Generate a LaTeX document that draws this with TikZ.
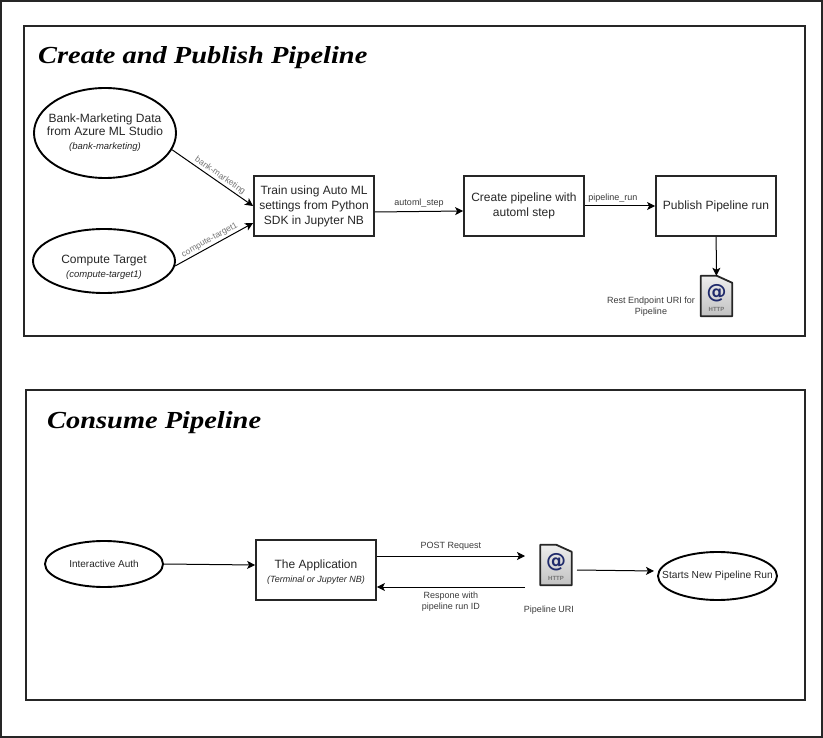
\documentclass[tikz,border=0pt]{standalone}
\usepackage{fontspec}
\setmainfont{Liberation Sans}
\newfontfamily\titlefont[FakeStretch=1.16]{Liberation Serif}
\newfontfamily\iconfont{DejaVu Sans}
\usetikzlibrary{calc,shapes.geometric,arrows.meta}
\definecolor{framegray}{HTML}{262626}
\definecolor{labelgray}{HTML}{3A3A3A}
\definecolor{atblue}{HTML}{1F2A6B}
\tikzset{
    panel/.style={draw=framegray,line width=1.6pt},
    oval/.style={draw,ellipse,line width=1.9pt,inner sep=0pt,align=center,text=black!85},
    stepbox/.style={draw=framegray,line width=1.8pt,minimum width=120pt,minimum height=60pt,inner sep=1pt,align=center,text=black!85,font=\fontsize{12}{15}\selectfont},
    conn/.style={-{Stealth[length=8pt,width=8pt,inset=2pt]},line width=1pt},
    lbl/.style={font=\fontsize{9}{11}\selectfont,text=labelgray,align=center,inner sep=1pt},
    edgelbl/.style={font=\fontsize{8.6}{10}\selectfont,text=labelgray!70,inner sep=1.5pt},
    pagetitle/.style={font=\titlefont\bfseries\itshape\fontsize{24.5}{28}\selectfont,anchor=west,inner sep=0pt},
    icon/.style={minimum width=31pt,minimum height=40pt,inner sep=0pt}
}
% http document icon, #1 name, #2 position
\newcommand{\httpicon}[2]{
    \node[icon] (#1) at (#2) {};
    \draw[line width=1.8pt,top color=black!7,bottom color=black!24,draw=black!85,line join=round]
        (#1.north west) -- ([xshift=16pt]#1.north west) -- ([yshift=-7pt]#1.north east) -- (#1.south east) -- (#1.south west) -- cycle;
    \node[font=\iconfont\bfseries\fontsize{20}{20}\selectfont,text=atblue,inner sep=0pt] (#1at) at ([yshift=3pt]#1.center) {@};
    \node[font=\bfseries\fontsize{6}{6}\selectfont,text=black!55,inner sep=0pt] (#1txt) at ([yshift=-13pt]#1.center) {HTTP};
}
\begin{document}
\begin{tikzpicture}[x=1pt,y=-1pt]
\useasboundingbox (0,0) rectangle (823,738);
\draw[framegray,line width=1.6pt] (1,1) rectangle (822,737);

% create and publish
\draw[panel] (24,26) rectangle (805,336);
\node[pagetitle] (titleA) at (38,58) {Create and Publish Pipeline};

\node[oval,inner xsep=-14pt,minimum width=142pt,minimum height=90pt] (bank) at (105,133)
    {\fontsize{12}{14}\selectfont Bank-Marketing Data\\[1pt]\fontsize{12}{14}\selectfont from Azure ML Studio\\[2pt]\fontsize{9.5}{14}\selectfont\itshape (bank-marketing)};
\node[oval,minimum width=142pt,minimum height=64pt] (compute) at (104,261)
    {\fontsize{12}{14}\selectfont\rule{0pt}{21pt}Compute Target\\[2pt]\fontsize{9.5}{14}\selectfont\itshape (compute-target1)};
\node[stepbox] (train) at (314,206) {Train using Auto ML\\settings from Python\\SDK in Jupyter NB};
\node[stepbox] (create) at (524,206) {Create pipeline with\\automl step};
\node[stepbox] (publish) at (716,206) {Publish Pipeline run};
\httpicon{rest}{716.5,296}
\node[lbl] (restlbl) at (651,307) {Rest Endpoint URI for\\Pipeline};

\draw[conn] (bank.-14) -- node[edgelbl,sloped,above,pos=.55]{bank-marketing} (train.west);
\draw[conn] (compute.-4) -- node[edgelbl,sloped,above,pos=.48]{compute-target1} ([yshift=-17pt]train.west);
\draw[conn] ([yshift=-6pt]train.east) -- node[lbl,above,yshift=3pt]{automl\_step} ([yshift=-5pt]create.west);
\draw[conn] (create) -- node[lbl,above,yshift=2pt,pos=.4]{pipeline\_run} (publish);
\draw[conn] (publish) -- (rest);

% consume
\draw[panel] (26,390) rectangle (805,700);
\node[pagetitle] (titleB) at (47,423) {Consume Pipeline};

\node[oval,minimum width=118pt,minimum height=46pt] (auth) at (104,564)
    {\fontsize{10}{11}\selectfont Interactive Auth};
\node[stepbox] (app) at (316,570)
    {\rule{0pt}{12pt}The Application\\[-1pt]\fontsize{9}{13}\selectfont\itshape (Terminal or Jupyter NB)};
\httpicon{uri}{556,565}
\node[lbl] (urilbl) at (549,610) {Pipeline URI};
\node[oval,inner xsep=-15pt,minimum width=119pt,minimum height=48pt] (starts) at (717.5,576)
    {\fontsize{10.2}{11}\selectfont Starts New Pipeline Run};
\coordinate (postend) at (525,556);
\coordinate (respstart) at (525,587);
\coordinate (uriout) at (577,570);
\coordinate (startsin) at (654,571);

\draw[conn] (auth.east) -- ([yshift=5pt]app.west);
\draw[conn] ([yshift=14pt]app.east) -- node[lbl,above,yshift=4pt]{POST Request} (postend);
\draw[conn] (respstart) -- node[lbl,below,yshift=-3pt]{Respone with\\pipeline run ID} ([yshift=-17pt]app.east);
\draw[conn] (uriout) -- (startsin);
\end{tikzpicture}
\end{document}
